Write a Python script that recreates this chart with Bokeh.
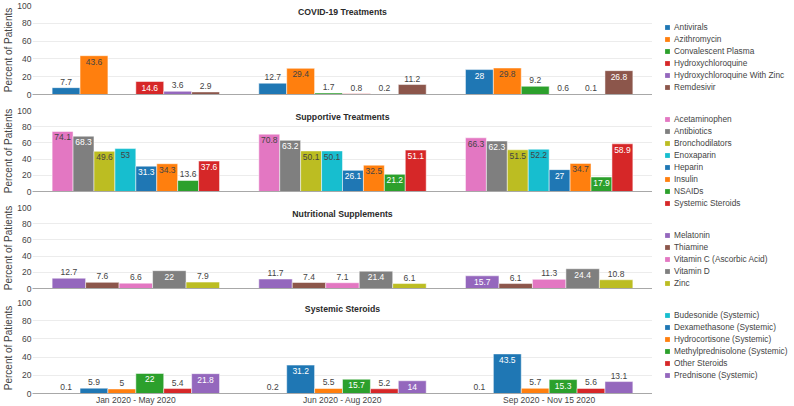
import numpy as np
from bokeh.plotting import figure
from bokeh.models import ColumnDataSource, FixedTicker, LabelSet, Label, Legend, LegendItem, Range1d
from bokeh.layouts import column, row
from bokeh.core.properties import value
from bokeh.embed import file_html
from bokeh.resources import INLINE

# ---------------- data ----------------
periods = ["Jan 2020 - May 2020", "Jun 2020 - Aug 2020", "Sep 2020 - Nov 15 2020"]
y_ticks = [0, 20, 40, 60, 80, 100]

covid_title = "COVID-19 Treatments"
covid_names = ["Antivirals", "Azithromycin", "Convalescent Plasma", "Hydroxychloroquine",
               "Hydroxychloroquine With Zinc", "Remdesivir"]
covid_antivirals = [7.7, 12.7, 28]
covid_azithromycin = [43.6, 29.4, 29.8]
covid_plasma = [None, 1.7, 9.2]
covid_hcq = [14.6, 0.8, 0.6]
covid_hcq_zinc = [3.6, 0.2, 0.1]
covid_remdesivir = [2.9, 11.2, 26.8]

supp_title = "Supportive Treatments"
supp_names = ["Acetaminophen", "Antibiotics", "Bronchodilators", "Enoxaparin", "Heparin",
              "Insulin", "NSAIDs", "Systemic Steroids"]
supp_acetaminophen = [74.1, 70.8, 66.3]
supp_antibiotics = [68.3, 63.2, 62.3]
supp_bronchodilators = [49.6, 50.1, 51.5]
supp_enoxaparin = [53, 50.1, 52.2]
supp_heparin = [31.3, 26.1, 27]
supp_insulin = [34.3, 32.5, 34.7]
supp_nsaids = [13.6, 21.2, 17.9]
supp_steroids = [37.6, 51.1, 58.9]

nutr_title = "Nutritional Supplements"
nutr_names = ["Melatonin", "Thiamine", "Vitamin C (Ascorbic Acid)", "Vitamin D", "Zinc"]
nutr_melatonin = [12.7, 11.7, 15.7]
nutr_thiamine = [7.6, 7.4, 6.1]
nutr_vitamin_c = [6.6, 7.1, 11.3]
nutr_vitamin_d = [22, 21.4, 24.4]
nutr_zinc = [7.9, 6.1, 10.8]

ster_title = "Systemic Steroids"
ster_names = ["Budesonide (Systemic)", "Dexamethasone (Systemic)", "Hydrocortisone (Systemic)",
              "Methylprednisolone (Systemic)", "Other Steroids", "Prednisone (Systemic)"]
ster_budesonide = [0.1, 0.2, 0.1]
ster_dexamethasone = [5.9, 31.2, 43.5]
ster_hydrocortisone = [5, 5.5, 5.7]
ster_methylpred = [22, 15.7, 15.3]
ster_other = [5.4, 5.2, 5.6]
ster_prednisone = [21.8, 14, 13.1]

# ---------------- style ----------------
BLUE, ORANGE, GREEN, RED = "#1f77b4", "#ff7f0e", "#2ca02c", "#d62728"
PURPLE, BROWN, PINK, GRAY = "#9467bd", "#8c564b", "#e377c2", "#7f7f7f"
OLIVE, CYAN = "#bcbd22", "#17becf"
LIGHT = {ORANGE, PINK, OLIVE, CYAN}
FONT = "Liberation Sans"
TXT = "#444444"
TOTAL_W = 794
FRAME_W = 620
LEFT = 30
LEFT_SAFE = 36
INSIDE_MIN = 13.8

panels = [
    dict(title=covid_title, names=covid_names,
         values=[covid_antivirals, covid_azithromycin, covid_plasma, covid_hcq, covid_hcq_zinc, covid_remdesivir],
         colors=[BLUE, ORANGE, GREEN, RED, PURPLE, BROWN], fh=89, top=5, bottom=11, legend_y=313.4),
    dict(title=supp_title, names=supp_names,
         values=[supp_acetaminophen, supp_antibiotics, supp_bronchodilators, supp_enoxaparin,
                 supp_heparin, supp_insulin, supp_nsaids, supp_steroids],
         colors=[PINK, GRAY, OLIVE, CYAN, BLUE, ORANGE, GREEN, RED], fh=81, top=5, bottom=11, legend_y=197.2),
    dict(title=nutr_title, names=nutr_names,
         values=[nutr_melatonin, nutr_thiamine, nutr_vitamin_c, nutr_vitamin_d, nutr_zinc],
         colors=[PURPLE, BROWN, PINK, GRAY, OLIVE], fh=81, top=5, bottom=9, legend_y=117.0),
    dict(title=ster_title, names=ster_names,
         values=[ster_budesonide, ster_dexamethasone, ster_hydrocortisone, ster_methylpred,
                 ster_other, ster_prednisone],
         colors=[CYAN, BLUE, ORANGE, GREEN, RED, PURPLE], fh=91, top=5, bottom=13, legend_y=24.9),
]


def make_panel(pd, show_x):
    names, values, colors = pd["names"], pd["values"], pd["colors"]
    n = len(names)
    bw = 0.81 / n
    p = figure(frame_width=FRAME_W, frame_height=pd["fh"],
               x_range=Range1d(-0.5, 2.5), y_range=Range1d(0, 100),
               output_backend="svg", toolbar_location=None, title=None,
               min_border_left=LEFT, min_border_right=0,
               min_border_top=pd["top"], min_border_bottom=pd["bottom"])
    xs, tops, cols, labs, tcols, offs = [], [], [], [], [], []
    for i, (vals, c) in enumerate(zip(values, colors)):
        for g, v in enumerate(vals):
            if v is None:
                continue
            xs.append(g + (i - (n - 1) / 2) * bw)
            tops.append(v)
            cols.append(c)
            labs.append(f"{v:g}")
            inside = v >= INSIDE_MIN
            tcols.append("white" if (inside and c not in LIGHT) else TXT)
            offs.append(-6 if inside else 6)
    src = ColumnDataSource(dict(x=xs, top=tops, bar_fill=cols, label=labs, tcol=tcols, yoff=offs))
    p.vbar(x="x", top="top", bottom=0, width=bw, source=src, fill_color="bar_fill",
           line_color="white", line_width=0.5)
    p.add_layout(LabelSet(x="x", y="top", text="label", source=src, text_align="center",
                          text_baseline="middle", y_offset="yoff", text_color="tcol",
                          text_font_size="8.5px", text_font=value(FONT)))
    p.add_layout(Label(x=1, y=100, text=pd["title"], text_align="center", text_baseline="middle",
                       y_offset=-6, text_font=FONT, text_font_size="8.7px",
                       text_font_style="bold", text_color="#2a2a2a"))

    p.yaxis.ticker = FixedTicker(ticks=y_ticks)
    p.yaxis.axis_label = "Percent of Patients"
    p.yaxis.axis_label_text_font = FONT
    p.yaxis.axis_label_text_font_size = "10px"
    p.yaxis.axis_label_text_font_style = "normal"
    p.yaxis.axis_label_text_color = TXT
    p.yaxis.axis_label_standoff = 0
    p.yaxis.major_label_text_font = FONT
    p.yaxis.major_label_text_font_size = "8.5px"
    p.yaxis.major_label_text_color = TXT
    p.yaxis.major_label_standoff = 1
    p.yaxis.major_tick_out = 0
    p.yaxis.major_tick_in = 0
    p.yaxis.minor_tick_line_color = None
    p.yaxis.axis_line_color = None

    p.xaxis.axis_line_color = "#a8a8a8"
    p.xaxis.major_tick_out = 0
    p.xaxis.major_tick_in = 0
    p.xaxis.minor_tick_line_color = None
    if show_x:
        p.xaxis.ticker = FixedTicker(ticks=[0, 1, 2])
        p.xaxis.major_label_overrides = {i: lab for i, lab in enumerate(periods)}
        p.xaxis.major_label_text_font = FONT
        p.xaxis.major_label_text_font_size = "8.5px"
        p.xaxis.major_label_text_color = TXT
        p.xaxis.major_label_standoff = 1
    else:
        p.xaxis.ticker = FixedTicker(ticks=[])
        p.xaxis.major_label_text_font_size = "0px"
        p.xaxis.major_label_standoff = 0

    p.xgrid.visible = False
    p.ygrid.ticker = FixedTicker(ticks=y_ticks)
    p.ygrid.grid_line_color = "#ececec"
    p.outline_line_color = None
    return p


figs = [make_panel(pd, k == len(panels) - 1) for k, pd in enumerate(panels)]

total_h = sum(pd["top"] + pd["fh"] + pd["bottom"] for pd in panels)
leg_w = TOTAL_W - (LEFT_SAFE + FRAME_W)
lf = figure(width=leg_w, height=total_h, x_range=Range1d(0, 1), y_range=Range1d(0, 1),
            output_backend="svg", toolbar_location=None, title=None,
            x_axis_location=None, y_axis_location=None, min_border=0)
lf.grid.visible = False
lf.outline_line_color = None
for pd in panels:
    items = []
    for name, c in zip(pd["names"], pd["colors"]):
        r = lf.scatter(x=np.array([np.nan]), y=np.array([np.nan]), marker="square", size=6,
                       fill_color=c, line_color=None)
        items.append(LegendItem(label=name, renderers=[r]))
    lg = Legend(items=items, location=(9, pd["legend_y"]), glyph_width=12, glyph_height=12,
                label_height=12, spacing=0, padding=0, margin=0, label_standoff=1,
                label_text_font=FONT, label_text_font_size="8.3px", label_text_color=TXT,
                border_line_color=None, background_fill_alpha=0)
    lf.add_layout(lg)

layout = row(column(*figs), lf)
open("out.html", "w").write(file_html(layout, INLINE))
